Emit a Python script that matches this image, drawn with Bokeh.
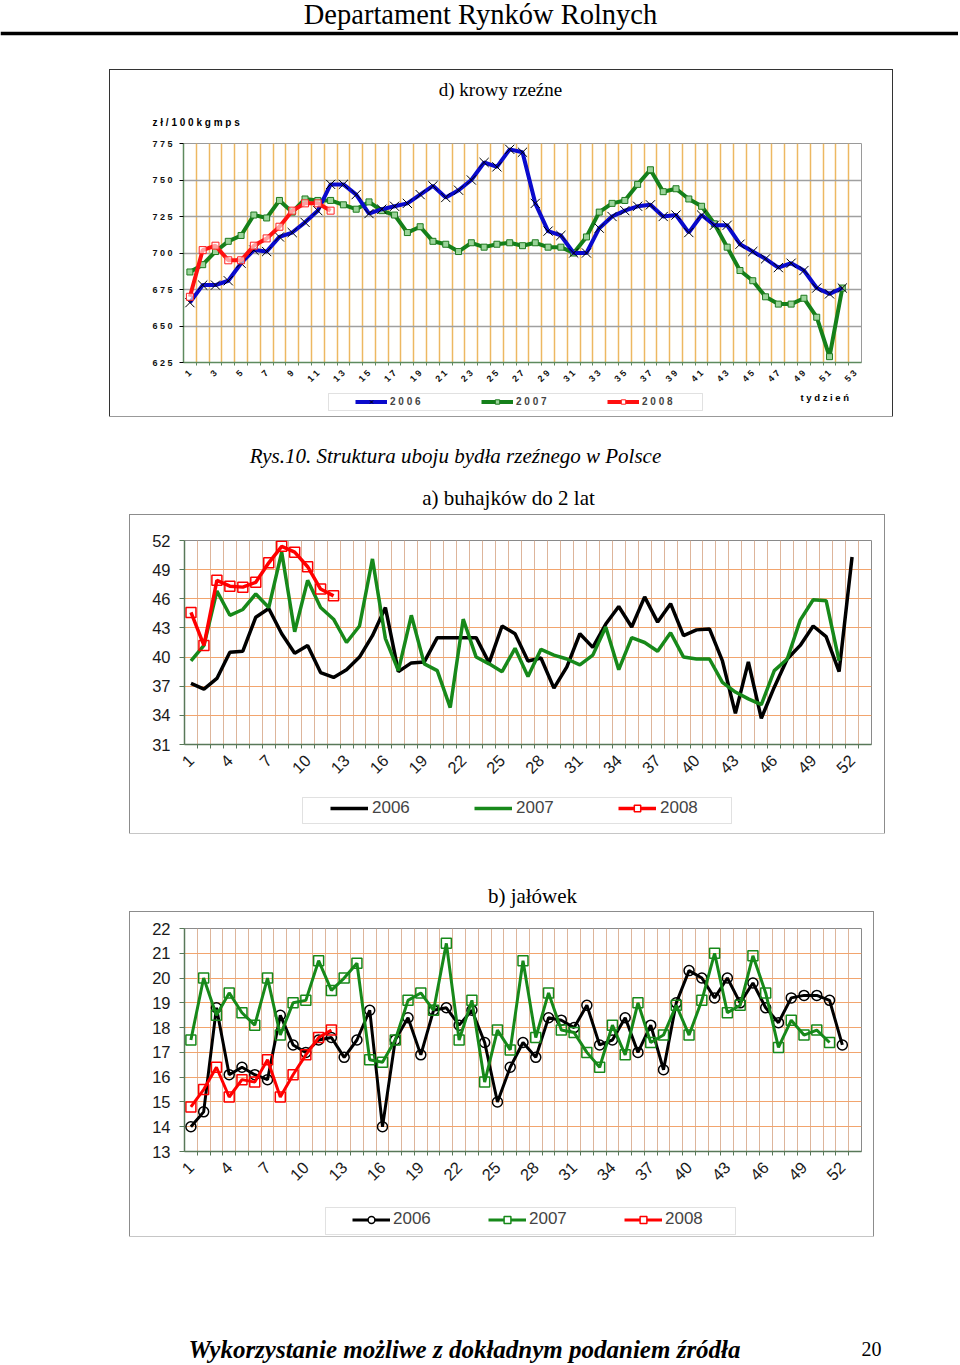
from bokeh.plotting import figure
from bokeh.models import Range1d, FixedTicker, Legend, LegendItem, Spacer, Span, BoxAnnotation
from bokeh.layouts import column, row
from bokeh.embed import file_html
from bokeh.resources import INLINE
from bokeh.core.properties import value

# ---------------- data ----------------
weeks = list(range(1, 54))

# d) krowy rzeźne  (zł/100 kg mps)
krowy_2006 = [666, 678, 678, 681, 693, 702, 701, 711, 714, 721, 729, 747, 747, 740, 727, 730, 732, 734,
              740, 746, 738, 743, 750, 762, 759, 771, 769, 734, 715, 712, 700, 700, 717, 725, 729, 732,
              733, 725, 726, 714, 726, 719, 719, 706, 701, 696, 690, 693, 688, 676, 672, 676]
krowy_2007 = [687, 692, 701, 708, 712, 726, 724, 736, 728, 737, 736, 736, 733, 730, 735, 729, 726, 714,
              718, 708, 706, 701, 707, 704, 706, 707, 705, 707, 704, 704, 700, 711, 728, 734, 736, 747,
              757, 742, 744, 737, 732, 720, 704, 688, 681, 670, 665, 665, 669, 656, 629, 676]
krowy_2008 = [670, 702, 705, 695, 695, 705, 710, 718, 729, 734, 734, 729]
krowy_y_ticks = [625, 650, 675, 700, 725, 750, 775]
krowy_x_ticks = list(range(1, 54, 2))

# a) buhajków do 2 lat
buhajki_2006 = [37.3, 36.7, 37.8, 40.5, 40.6, 44.1, 45.0, 42.4, 40.4, 41.2, 38.4, 37.9, 38.7, 40.0, 42.2,
                45.1, 38.5, 39.4, 39.5, 42.0, 42.0, 42.0, 42.0, 39.4, 43.2, 42.4, 39.6, 39.9, 36.8, 39.0,
                42.4, 41.0, 43.4, 45.2, 43.1, 46.2, 43.6, 45.5, 42.2, 42.8, 42.9, 39.6, 34.2, 39.5, 33.7,
                36.9, 39.8, 41.2, 43.2, 42.1, 38.5, 50.3]
buhajki_2007 = [39.6, 41.2, 46.8, 44.3, 44.9, 46.5, 45.1, 50.8, 42.6, 47.9, 45.1, 43.9, 41.5, 43.2, 50.1,
                41.9, 38.6, 44.3, 39.3, 38.6, 34.8, 43.9, 40.0, 39.3, 38.5, 40.9, 38.0, 40.8, 40.2, 39.8,
                39.2, 40.2, 43.1, 38.7, 42.0, 41.5, 40.6, 42.5, 40.0, 39.8, 39.8, 37.4, 36.4, 35.7, 35.1,
                38.6, 39.8, 43.8, 45.9, 45.8, 39.6]
buhajki_2008 = [44.6, 41.2, 47.9, 47.3, 47.2, 47.7, 49.7, 51.4, 50.8, 49.3, 47.0, 46.3]
buhajki_y_ticks = [31, 34, 37, 40, 43, 46, 49, 52]
buhajki_x_ticks = list(range(1, 53, 3))

# b) jałówek
jalowki_2006 = [14.0, 14.6, 18.8, 16.1, 16.4, 16.1, 15.9, 18.5, 17.3, 17.0, 17.5, 17.6, 16.8, 17.5, 18.7,
                14.0, 17.5, 18.4, 16.9, 18.7, 18.8, 18.1, 18.7, 17.4, 15.0, 16.4, 17.4, 16.8, 18.4, 18.3,
                18.0, 18.9, 17.3, 17.5, 18.4, 17.0, 18.1, 16.3, 19.0, 20.3, 20.0, 19.2, 20.0, 19.0, 19.8,
                18.8, 18.2, 19.2, 19.3, 19.3, 19.1, 17.3]
jalowki_2007 = [17.5, 20.0, 18.5, 19.4, 18.6, 18.1, 20.0, 17.7, 19.0, 19.1, 20.7, 19.5, 20.0, 20.6, 16.7,
                16.6, 17.5, 19.1, 19.4, 18.7, 21.4, 17.5, 19.1, 15.8, 17.9, 17.1, 20.7, 17.6, 19.4, 17.9,
                17.8, 17.0, 16.4, 18.1, 16.9, 19.0, 17.4, 17.7, 18.9, 17.7, 19.1, 21.0, 18.6, 18.9, 20.9,
                19.4, 17.2, 18.3, 17.7, 17.9, 17.4]
jalowki_2008 = [14.8, 15.5, 16.4, 15.2, 15.9, 15.8, 16.7, 15.2, 16.1, 16.9, 17.6, 17.9]
jalowki_y_ticks = list(range(13, 23))
jalowki_x_ticks = list(range(1, 53, 3))

years = ["2006", "2007", "2008"]

# ---------------- helpers ----------------
SERIF = "Liberation Serif"
SANS = "Liberation Sans"
PAGE_W = 958

BLUE, GREEN, RED = "#0A0ACC", "#15801A", "#FF1010"
GREEN2, RED2 = "#17891A", "#FF0000"
NAN = [float("nan")]   # legend proxies: one invisible (NaN) sample so the key glyph is drawn


def wk(vals):
    return weeks[:len(vals)]


boundaries = [k + 0.5 for k in weeks[:-1]]


def no_align(p):
    if "frame_align" in p.properties():
        p.frame_align = False
    return p


def text_panel(w, h):
    p = figure(width=w, height=h, x_range=Range1d(0, w), y_range=Range1d(h, 0),
               x_axis_type=None, y_axis_type=None, toolbar_location=None,
               output_backend="svg", min_border=0)
    p.outline_line_color = None
    p.background_fill_color = "white"
    p.border_fill_color = "white"
    return no_align(p)


def put_text(p, x, y, txt, size, style="normal", font=SERIF, align="center", baseline="middle"):
    p.text(x=[x], y=[y], text=[txt], text_font=value(font), text_font_size=value(size),
           text_font_style=value(style), text_align=value(align), text_baseline=value(baseline),
           text_color="black")


def spaced(s):
    return " ".join(str(s))


def legend_frame(p, left, right, top_, bottom):
    p.add_layout(BoxAnnotation(left=left, right=right, top=top_, bottom=bottom, fill_color="white",
                               fill_alpha=1, line_color="#9a9a9a", line_width=1))


# ---------------- header ----------------
head = text_panel(PAGE_W, 70)
put_text(head, 480, 14, "Departament Rynków Rolnych", "28.5px")
head.add_layout(Span(location=33, dimension="width", line_color="black", line_width=3.5))

# ---------------- d) krowy rzeźne ----------------
top_title = text_panel(782, 62)
put_text(top_title, 390, 19, "d) krowy rzeźne", "19px")
put_text(top_title, 42, 52, "z ł / 1 0 0  k g  m p s", "10px", style="bold", font=SANS, align="left")

top = no_align(figure(width=782, height=260, x_range=Range1d(0.5, 53.5), y_range=Range1d(625, 775),
                      toolbar_location=None, output_backend="svg",
                      min_border_left=73, min_border_right=31, min_border_top=11, min_border_bottom=30,
                      background_fill_color="white", border_fill_color="white",
                      outline_line_color="#9a9a9a"))
top.xgrid.ticker = FixedTicker(ticks=boundaries)
top.xgrid.grid_line_color = "#EDB862"
top.xgrid.grid_line_width = 1.5
top.ygrid.ticker = FixedTicker(ticks=krowy_y_ticks)
top.ygrid.grid_line_color = "#A0A0A0"
top.ygrid.grid_line_width = 1.5
top.xaxis.ticker = FixedTicker(ticks=krowy_x_ticks, minor_ticks=boundaries)
top.yaxis.ticker = FixedTicker(ticks=krowy_y_ticks)
top.xaxis.major_label_overrides = {k: spaced(k) for k in krowy_x_ticks}
top.yaxis.major_label_overrides = {v: spaced(v) for v in krowy_y_ticks}
for ax in (top.xaxis[0], top.yaxis[0]):
    ax.axis_line_color = "#5E8A5E"
    ax.axis_line_width = 1.5
    ax.major_label_text_font = SANS
    ax.major_label_text_font_style = "bold"
    ax.major_label_text_font_size = "9px"
    ax.major_label_text_color = "#111111"
    ax.minor_tick_in = 0
    ax.major_tick_in = 0
top.yaxis.major_tick_out = 4
top.yaxis.minor_tick_out = 0
top.yaxis.major_label_standoff = 7
top.xaxis.major_tick_out = 0
top.xaxis.minor_tick_out = 3
top.xaxis.minor_tick_line_color = "#5E8A5E"
top.xaxis.major_label_orientation = 0.785
top.xaxis.major_label_standoff = 6

top.line(wk(krowy_2007), krowy_2007, line_color=GREEN, line_width=4)
top.scatter(wk(krowy_2007), krowy_2007, marker="square", size=6, line_color="#1E7A1E",
            fill_color="#9AD49A", line_width=1)
top.line(wk(krowy_2006), krowy_2006, line_color=BLUE, line_width=4)
top.scatter(wk(krowy_2006), krowy_2006, marker="x", size=13, line_color="black", line_width=1)
top.line(wk(krowy_2008), krowy_2008, line_color=RED, line_width=4)
top.scatter(wk(krowy_2008), krowy_2008, marker="square", size=7, line_color="#FF2020",
            fill_color="white", fill_alpha=0.6, line_width=1)

# legend strip (legend keys come from invisible proxy renderers)
top_leg_fig = text_panel(782, 24)
legend_frame(top_leg_fig, 218, 592, 1, 18)
lb1 = top_leg_fig.line(NAN, NAN, line_color=BLUE, line_width=4)
lb2 = top_leg_fig.scatter(NAN, NAN, marker="x", size=12, line_color="black", line_width=1)
lg1 = top_leg_fig.line(NAN, NAN, line_color=GREEN, line_width=4)
lg2 = top_leg_fig.scatter(NAN, NAN, marker="square", size=6, line_color="#1E7A1E", fill_color="#9AD49A")
lr1 = top_leg_fig.line(NAN, NAN, line_color=RED, line_width=4)
lr2 = top_leg_fig.scatter(NAN, NAN, marker="square", size=7, line_color="#FF2020", fill_color="white")
top_leg = Legend(items=[LegendItem(label=spaced(years[0]), renderers=[lb1, lb2]),
                        LegendItem(label=spaced(years[1]), renderers=[lg1, lg2]),
                        LegendItem(label=spaced(years[2]), renderers=[lr1, lr2])],
                 location=(245, 9), orientation="horizontal", margin=0, padding=0, spacing=59,
                 glyph_width=32, glyph_height=11, label_width=32, label_height=11, label_standoff=3,
                 label_text_font=SANS, label_text_font_style="bold", label_text_font_size="10px",
                 border_line_color=None, background_fill_alpha=0)
top_leg_fig.add_layout(top_leg)
put_text(top_leg_fig, 690, 5, "t y d z i e ń", "9.5px", style="bold", font=SANS, align="left")

top_box = column(top_title, top, top_leg_fig, styles={"outline": "1px solid #333333"})

# ---------------- caption panel ----------------
cap = text_panel(PAGE_W, 99)
put_text(cap, 455, 39, "Rys.10. Struktura uboju bydła rzeźnego w Polsce", "21px", style="italic")
put_text(cap, 508, 81, "a) buhajków do 2 lat", "21px")


def style_lower(p, yticks, xticks):
    p.xgrid.ticker = FixedTicker(ticks=boundaries)
    p.xgrid.grid_line_color = "#DDB59B"
    p.xgrid.grid_line_width = 1
    p.ygrid.ticker = FixedTicker(ticks=yticks)
    p.ygrid.grid_line_color = "#F2A56E"
    p.ygrid.grid_line_width = 1
    p.xaxis.ticker = FixedTicker(ticks=xticks, minor_ticks=boundaries)
    p.yaxis.ticker = FixedTicker(ticks=yticks)
    for ax in (p.xaxis[0], p.yaxis[0]):
        ax.axis_line_color = "#587858"
        ax.axis_line_width = 1.5
        ax.major_label_text_font = SANS
        ax.major_label_text_font_size = "16.5px"
        ax.major_label_text_color = "#1a1a1a"
        ax.major_tick_in = 0
        ax.minor_tick_in = 0
    p.yaxis.major_tick_out = 5
    p.yaxis.major_tick_line_color = "#587858"
    p.yaxis.minor_tick_out = 0
    p.yaxis.major_label_standoff = 9
    p.xaxis.major_tick_out = 0
    p.xaxis.minor_tick_out = 4
    p.xaxis.minor_tick_line_color = "#587858"
    p.xaxis.major_label_orientation = 0.785
    p.xaxis.major_label_standoff = 9


def lower_legend(items, loc, spacing, height, standoff):
    return Legend(items=items, location=loc, orientation="horizontal", margin=0, padding=0,
                  spacing=spacing, glyph_width=38, glyph_height=height, label_width=46,
                  label_height=height, label_standoff=standoff, label_text_font=SANS,
                  label_text_font_size="17px", border_line_color=None, background_fill_alpha=0)


def chart_fig(w, h, yr, borders):
    l, r, t, b = borders
    return no_align(figure(width=w, height=h, x_range=Range1d(0.5, 53.5), y_range=Range1d(*yr),
                           toolbar_location=None, output_backend="svg",
                           min_border_left=l, min_border_right=r, min_border_top=t,
                           min_border_bottom=b, background_fill_color="white",
                           border_fill_color="white", outline_line_color="#8a8a8a"))


# ---------------- a) buhajków ----------------
mid = chart_fig(754, 275, (31, 52), (54, 13, 25, 46))
style_lower(mid, buhajki_y_ticks, buhajki_x_ticks)
mid.line(wk(buhajki_2006), buhajki_2006, line_color="black", line_width=3.5)
mid.line(wk(buhajki_2007), buhajki_2007, line_color=GREEN2, line_width=3.5)
mid.line(wk(buhajki_2008), buhajki_2008, line_color=RED2, line_width=3.5)
mid.scatter(wk(buhajki_2008), buhajki_2008, marker="square", size=10, line_color=RED2,
            fill_color=None, line_width=1.5)

mid_leg_fig = text_panel(754, 43)
legend_frame(mid_leg_fig, 172, 601, 7, 33)
m1 = mid_leg_fig.line(NAN, NAN, line_color="black", line_width=3.5)
m2 = mid_leg_fig.line(NAN, NAN, line_color=GREEN2, line_width=3.5)
m3 = mid_leg_fig.line(NAN, NAN, line_color=RED2, line_width=3.5)
m3s = mid_leg_fig.scatter(NAN, NAN, marker="square", size=9, line_color=RED2, fill_color="white",
                          line_width=1.5)
mid_leg_fig.add_layout(lower_legend([LegendItem(label=years[0], renderers=[m1]),
                                     LegendItem(label=years[1], renderers=[m2]),
                                     LegendItem(label=years[2], renderers=[m3, m3s])],
                                    (200, 15), 56, 16, 4))
mid_box = column(mid, mid_leg_fig, styles={"outline": "1px solid #8c8c8c"})

capb = text_panel(PAGE_W, 79)
put_text(capb, 532, 62, "b) jałówek", "21px")

# ---------------- b) jałówek ----------------
bot = chart_fig(743, 283, (13, 22), (54, 12, 16, 44))
style_lower(bot, jalowki_y_ticks, jalowki_x_ticks)
bot.line(wk(jalowki_2006), jalowki_2006, line_color="black", line_width=3)
bot.scatter(wk(jalowki_2006), jalowki_2006, marker="circle", size=10, line_color="black",
            fill_color=None, line_width=1.5)
bot.line(wk(jalowki_2007), jalowki_2007, line_color=GREEN2, line_width=3)
bot.scatter(wk(jalowki_2007), jalowki_2007, marker="square", size=10, line_color=GREEN2,
            fill_color=None, line_width=1.5)
bot.line(wk(jalowki_2008), jalowki_2008, line_color=RED2, line_width=3)
bot.scatter(wk(jalowki_2008), jalowki_2008, marker="square", size=10, line_color=RED2,
            fill_color=None, line_width=1.5)

bot_leg_fig = text_panel(743, 41)
legend_frame(bot_leg_fig, 195, 605, 12, 39)
b1 = bot_leg_fig.line(NAN, NAN, line_color="black", line_width=3)
b1s = bot_leg_fig.scatter(NAN, NAN, marker="circle", size=10, line_color="black", fill_color="white",
                          line_width=1.5)
b2 = bot_leg_fig.line(NAN, NAN, line_color=GREEN2, line_width=3)
b2s = bot_leg_fig.scatter(NAN, NAN, marker="square", size=10, line_color=GREEN2, fill_color="white",
                          line_width=1.5)
b3 = bot_leg_fig.line(NAN, NAN, line_color=RED2, line_width=3)
b3s = bot_leg_fig.scatter(NAN, NAN, marker="square", size=10, line_color=RED2, fill_color="white",
                          line_width=1.5)
bot_leg_fig.add_layout(lower_legend([LegendItem(label=years[0], renderers=[b1, b1s]),
                                     LegendItem(label=years[1], renderers=[b2, b2s]),
                                     LegendItem(label=years[2], renderers=[b3, b3s])],
                                    (222, 7), 49, 17, 3))
bot_box = column(bot, bot_leg_fig, styles={"outline": "1px solid #8c8c8c"})

# ---------------- footer ----------------
foot = text_panel(PAGE_W, 127)
put_text(foot, 464, 113, "Wykorzystanie możliwe z dokładnym podaniem źródła", "25px", style="bold italic")
put_text(foot, 871, 112, "20", "20px")

page = column(
    head,
    row(Spacer(width=110, height=346), top_box),
    cap,
    row(Spacer(width=130, height=318), mid_box),
    capb,
    row(Spacer(width=130, height=324), bot_box),
    foot,
)

open("out.html", "w").write(file_html(page, INLINE))
